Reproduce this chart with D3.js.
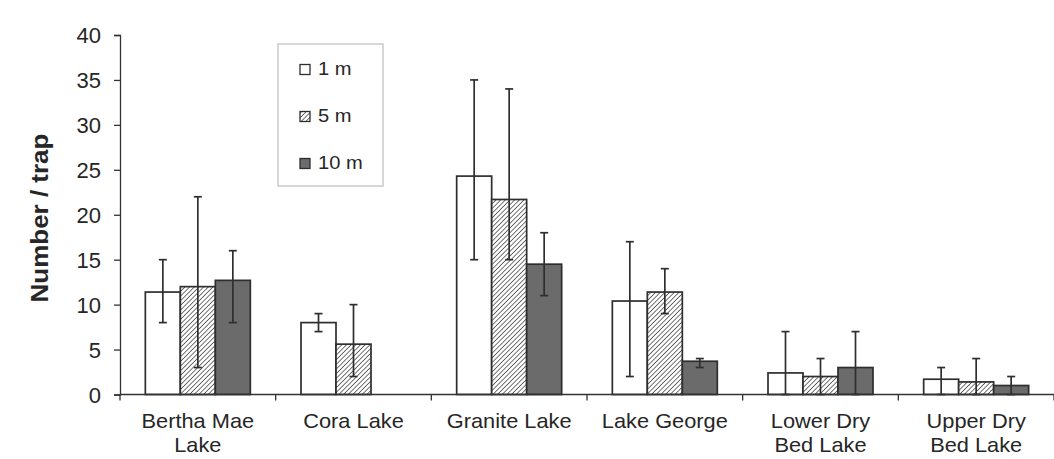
<!DOCTYPE html>
<html>
<head>
<meta charset="utf-8">
<script src="https://cdn.jsdelivr.net/npm/d3@7"></script>
<style>
  body { margin: 0; background: #fff; }
  svg text { font-family: "Liberation Sans", Arial, sans-serif; fill: #262626; }
</style>
</head>
<body>
<div id="chart"></div>
<script>
const categories = ['Bertha Mae\nLake', 'Cora Lake', 'Granite Lake', 'Lake George', 'Lower Dry\nBed Lake', 'Upper Dry\nBed Lake'];
const series = ['1 m', '5 m', '10 m'];
const yTicks = [0, 5, 10, 15, 20, 25, 30, 35, 40];

// mean and error-bar ends per depth
const mean1m = [11.4, 8.0, 24.3, 10.4, 2.4, 1.7];
const low1m = [8, 7, 15, 2, 0, 0];
const high1m = [15, 9, 35, 17, 7, 3];
const mean5m = [12.0, 5.6, 21.7, 11.4, 2.0, 1.4];
const low5m = [3, 2, 15, 9, 0, 0];
const high5m = [22, 10, 34, 14, 4, 4];
const mean10m = [12.7, null, 14.5, 3.7, 3.0, 1.0];
const low10m = [8, null, 11, 3, 0, 0];
const high10m = [16, null, 18, 4, 7, 2];

const W = 1054, H = 459;
const mLeft = 120, mRight = 1054, mTop = 35, mBottom = 394.5;

const rows = [];
[[mean1m, low1m, high1m], [mean5m, low5m, high5m], [mean10m, low10m, high10m]].forEach(([m, lo, hi], s) => {
  categories.forEach((c, i) => {
    if (m[i] != null) rows.push({ cat: c, series: series[s], mean: m[i], low: lo[i], high: hi[i] });
  });
});

const svg = d3.select('#chart').append('svg')
    .attr('width', W)
    .attr('height', H);

const defs = svg.append('defs');
defs.append('pattern')
    .attr('id', 'hatch')
    .attr('patternUnits', 'userSpaceOnUse')
    .attr('width', 3.3)
    .attr('height', 3.3)
    .attr('patternTransform', 'rotate(45)')
  .call((p) => {
    p.append('rect').attr('width', 3.3).attr('height', 3.3).attr('fill', '#fff');
    p.append('line').attr('x1', 0).attr('y1', 0).attr('x2', 0).attr('y2', 3.3)
        .attr('stroke', '#444').attr('stroke-width', 1.5);
  });

const fills = { '1 m': '#fff', '5 m': 'url(#hatch)', '10 m': '#6b6b6b' };

const x = d3.scaleBand().domain(categories).range([mLeft, mRight]).paddingInner(0).paddingOuter(0);
const xs = d3.scaleBand().domain(series).range([0, x.bandwidth()]).paddingInner(0).paddingOuter(0.724);
const y = d3.scaleLinear().domain([0, 40]).range([mBottom, mTop]);

// y axis
const yAxis = svg.append('g')
    .attr('transform', `translate(${mLeft},0)`)
    .call(d3.axisLeft(y).tickValues(yTicks).tickSize(6).tickPadding(13));
yAxis.select('.domain').attr('stroke', '#333').attr('stroke-width', 1.3);
yAxis.selectAll('.tick line').attr('stroke', '#333').attr('stroke-width', 1.3);
yAxis.selectAll('.tick text').style('font-size', '22px').attr('fill', '#262626').attr('dy', '0.36em');

svg.append('text')
    .attr('transform', `translate(48,218) rotate(-90) scale(1.06,1)`)
    .attr('text-anchor', 'middle')
    .style('font-size', '24.5px')
    .style('font-weight', 'bold')
    .text('Number / trap');

// bars
const bars = svg.append('g');
bars.selectAll('rect')
    .data(rows)
    .enter()
    .append('rect')
    .attr('x', (d) => x(d.cat) + xs(d.series))
    .attr('y', (d) => y(d.mean))
    .attr('width', xs.bandwidth())
    .attr('height', (d) => y(0) - y(d.mean))
    .attr('fill', (d) => fills[d.series])
    .attr('stroke', '#2e2e2e')
    .attr('stroke-width', 1.7);

// error bars
const err = svg.append('g').attr('stroke', '#2e2e2e').attr('stroke-width', 1.7);
const cx = (d) => x(d.cat) + xs(d.series) + xs.bandwidth() / 2;
err.selectAll('line.v').data(rows).enter().append('line')
    .attr('x1', cx).attr('x2', cx)
    .attr('y1', (d) => y(d.low)).attr('y2', (d) => y(d.high));
['low', 'high'].forEach((k) => {
  err.selectAll(`line.${k}`).data(rows).enter().append('line')
      .attr('x1', (d) => cx(d) - 4).attr('x2', (d) => cx(d) + 4)
      .attr('y1', (d) => y(d[k])).attr('y2', (d) => y(d[k]));
});

// x axis
const xAxis = svg.append('g').attr('transform', `translate(0,${mBottom})`);
xAxis.append('line').attr('x1', mLeft).attr('x2', mRight).attr('stroke', '#333').attr('stroke-width', 1.3);
xAxis.selectAll('line.tick')
    .data(categories.concat(['end']))
    .enter()
    .append('line')
    .attr('x1', (d, i) => mLeft + i * x.step())
    .attr('x2', (d, i) => mLeft + i * x.step())
    .attr('y1', 0).attr('y2', 6)
    .attr('stroke', '#333').attr('stroke-width', 1.3);
const labels = xAxis.selectAll('text')
    .data(categories)
    .enter()
    .append('text')
    .attr('text-anchor', 'middle')
    .style('font-size', '20px')
    .attr('transform', (d) => `translate(${x(d) + x.bandwidth() / 2},33) scale(1.09,1)`);
labels.selectAll('tspan')
    .data((d) => d.split('\n'))
    .enter()
    .append('tspan')
    .attr('x', 0)
    .attr('y', (d, i) => i * 25)
    .text((d) => d);

// legend
const legend = svg.append('g').attr('transform', 'translate(278,44)');
legend.append('rect')
    .attr('width', 105).attr('height', 142)
    .attr('fill', '#fff').attr('stroke', '#bdbdbd').attr('stroke-width', 1.2);
const item = legend.selectAll('g.item')
    .data(series)
    .enter()
    .append('g')
    .attr('transform', (d, i) => `translate(22,${31 + i * 47})`);
item.append('rect')
    .attr('width', 10).attr('height', 10).attr('y', -10.5)
    .attr('fill', (d) => fills[d])
    .attr('stroke', '#2e2e2e').attr('stroke-width', 1.3);
item.append('text')
    .attr('transform', 'translate(18,0) scale(1.15,1)')
    .style('font-size', '17.5px')
    .text((d) => d);
</script>
</body>
</html>
